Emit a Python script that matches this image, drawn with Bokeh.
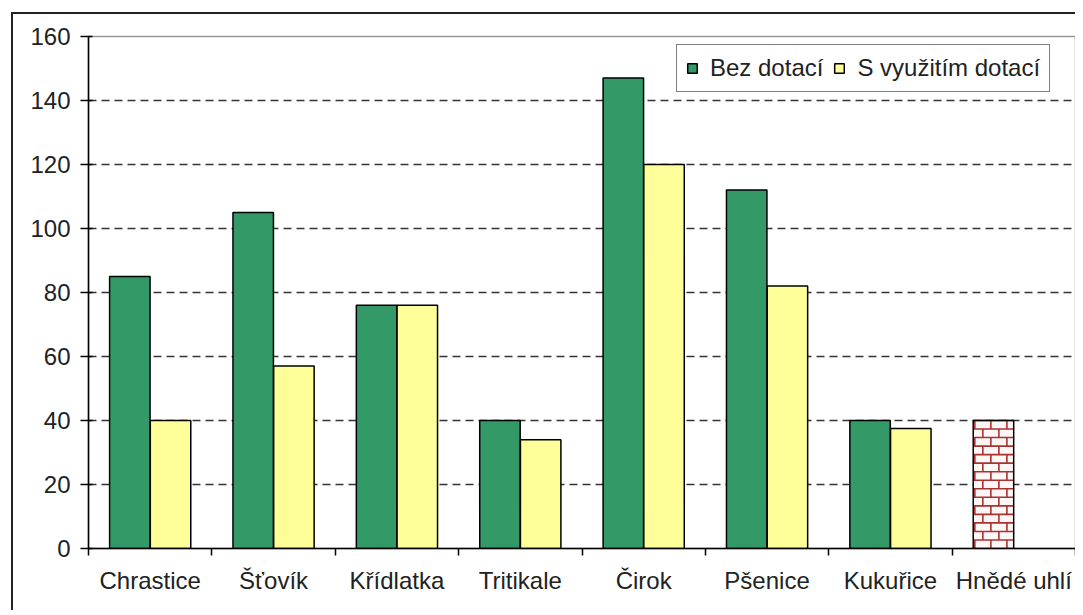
import numpy as np
from bokeh.plotting import figure
from bokeh.models import ColumnDataSource, FixedTicker, Range1d, Legend, LegendItem
from bokeh.embed import file_html
from bokeh.resources import INLINE

categories = ["Chrastice", "Šťovík", "Křídlatka", "Tritikale", "Čirok", "Pšenice", "Kukuřice", "Hnědé uhlí"]
bez_dotaci = [85, 105, 76, 40, 147, 112, 40]          # first 7 categories
s_vyuzitim_dotaci = [40, 57, 76, 34, 120, 82, 37.5]   # first 7 categories
hnede_uhli = [40]                                     # last category
y_ticks = [0, 20, 40, 60, 80, 100, 120, 140, 160]

GREEN = "#339966"
YELLOW = "#FFFF99"
BRICK = "#a83232"
FONT = "Liberation Sans"

n = len(categories)
idx = np.arange(n)
centers = idx + 0.5
off = 0.165
bw = 0.328

src_g = ColumnDataSource(dict(x=centers[:len(bez_dotaci)] - off, top=bez_dotaci))
src_y = ColumnDataSource(dict(x=centers[:len(s_vyuzitim_dotaci)] + off, top=s_vyuzitim_dotaci))
bx = centers[n - len(hnede_uhli):] - off
src_b = ColumnDataSource(dict(x=bx, top=hnede_uhli))

p = figure(width=1064, height=598, output_backend="svg", toolbar_location=None,
           x_range=Range1d(0, n), y_range=Range1d(0, 160),
           min_border_left=75, min_border_top=22, min_border_right=2, min_border_bottom=64)
p.margin = (12, 0, 0, 11)
p.styles = {"border-left": "2px solid #222", "border-top": "2px solid #222"}

p.outline_line_color = "#999999"
p.outline_line_width = 1.5
p.background_fill_color = "white"
p.border_fill_color = "white"

# grid
p.xgrid.grid_line_color = None
p.ygrid.ticker = FixedTicker(ticks=y_ticks[1:-1])
p.ygrid.grid_line_color = "#333333"
p.ygrid.grid_line_dash = "8 5"
p.ygrid.grid_line_width = 1.3

# y axis
p.yaxis.ticker = FixedTicker(ticks=y_ticks)
p.yaxis.axis_line_color = "black"
p.yaxis.axis_line_width = 1.5
p.yaxis.major_tick_line_color = "black"
p.yaxis.major_tick_line_width = 1.5
p.yaxis.major_tick_in = 4
p.yaxis.major_tick_out = 8
p.yaxis.minor_tick_line_color = None
p.yaxis.major_label_standoff = 10
p.yaxis.major_label_text_font = FONT
p.yaxis.major_label_text_font_size = "24px"
p.yaxis.major_label_text_color = "#222222"

# x axis: labels at category centers, ticks at category boundaries (minor ticks)
p.xaxis.ticker = FixedTicker(ticks=list(centers), minor_ticks=list(idx) + [n])
p.xaxis.major_label_overrides = {float(c): cat for c, cat in zip(centers, categories)}
p.xaxis.axis_line_color = "black"
p.xaxis.axis_line_width = 1.5
p.xaxis.major_tick_line_color = None
p.xaxis.major_tick_in = 0
p.xaxis.major_tick_out = 0
p.xaxis.minor_tick_line_color = "black"
p.xaxis.minor_tick_line_width = 1.5
p.xaxis.minor_tick_in = 0
p.xaxis.minor_tick_out = 7
p.xaxis.major_label_standoff = 11
p.xaxis.major_label_text_font = FONT
p.xaxis.major_label_text_font_size = "24px"
p.xaxis.major_label_text_color = "#222222"

rg = p.vbar(x="x", top="top", width=bw, source=src_g, fill_color=GREEN,
            line_color="black", line_width=1.5)
ry = p.vbar(x="x", top="top", width=bw, source=src_y, fill_color=YELLOW,
            line_color="black", line_width=1.5)

# brown-coal bar: white fill with a brick pattern derived from the bar's extent
p.vbar(x="x", top="top", width=bw, source=src_b, fill_color="#fff6f6", line_color=None)
row_h = 2.667       # brick row height (data units)
brick_w = 0.13      # brick width (data units)
hx0, hx1, hy = [], [], []
vx, vy0, vy1 = [], [], []
for cx, top in zip(bx, hnede_uhli):
    left, right = cx - bw / 2, cx + bw / 2
    rows = np.arange(0, top, row_h)
    for r, y0 in enumerate(rows):
        y1 = min(y0 + row_h, top)
        hx0.append(left); hx1.append(right); hy.append(y1)
        start = left + (brick_w / 2 if r % 2 else 0.0) + brick_w * 0.1
        for xj in np.arange(start, right, brick_w):
            vx.append(xj); vy0.append(y0); vy1.append(y1)
p.segment(x0=hx0, y0=hy, x1=hx1, y1=hy, line_color=BRICK, line_width=1.6)
p.segment(x0=vx, y0=vy0, x1=vx, y1=vy1, line_color=BRICK, line_width=1.6)
p.vbar(x="x", top="top", width=bw, source=src_b, fill_color=None,
       line_color="black", line_width=1.5)

legend = Legend(items=[LegendItem(label="Bez dotací", renderers=[rg]),
                       LegendItem(label="S využitím dotací", renderers=[ry])],
                orientation="horizontal", location=(588, 456))
legend.border_line_color = "black"
legend.border_line_width = 1.5
legend.background_fill_color = "white"
legend.background_fill_alpha = 1.0
legend.glyph_width = 12
legend.glyph_height = 12
legend.label_standoff = 12
legend.spacing = 10
legend.padding = 9
legend.margin = 0
legend.label_text_font = FONT
legend.label_text_font_size = "24px"
legend.label_text_color = "#222222"
p.add_layout(legend)

open("out.html", "w").write(file_html(p, INLINE))
